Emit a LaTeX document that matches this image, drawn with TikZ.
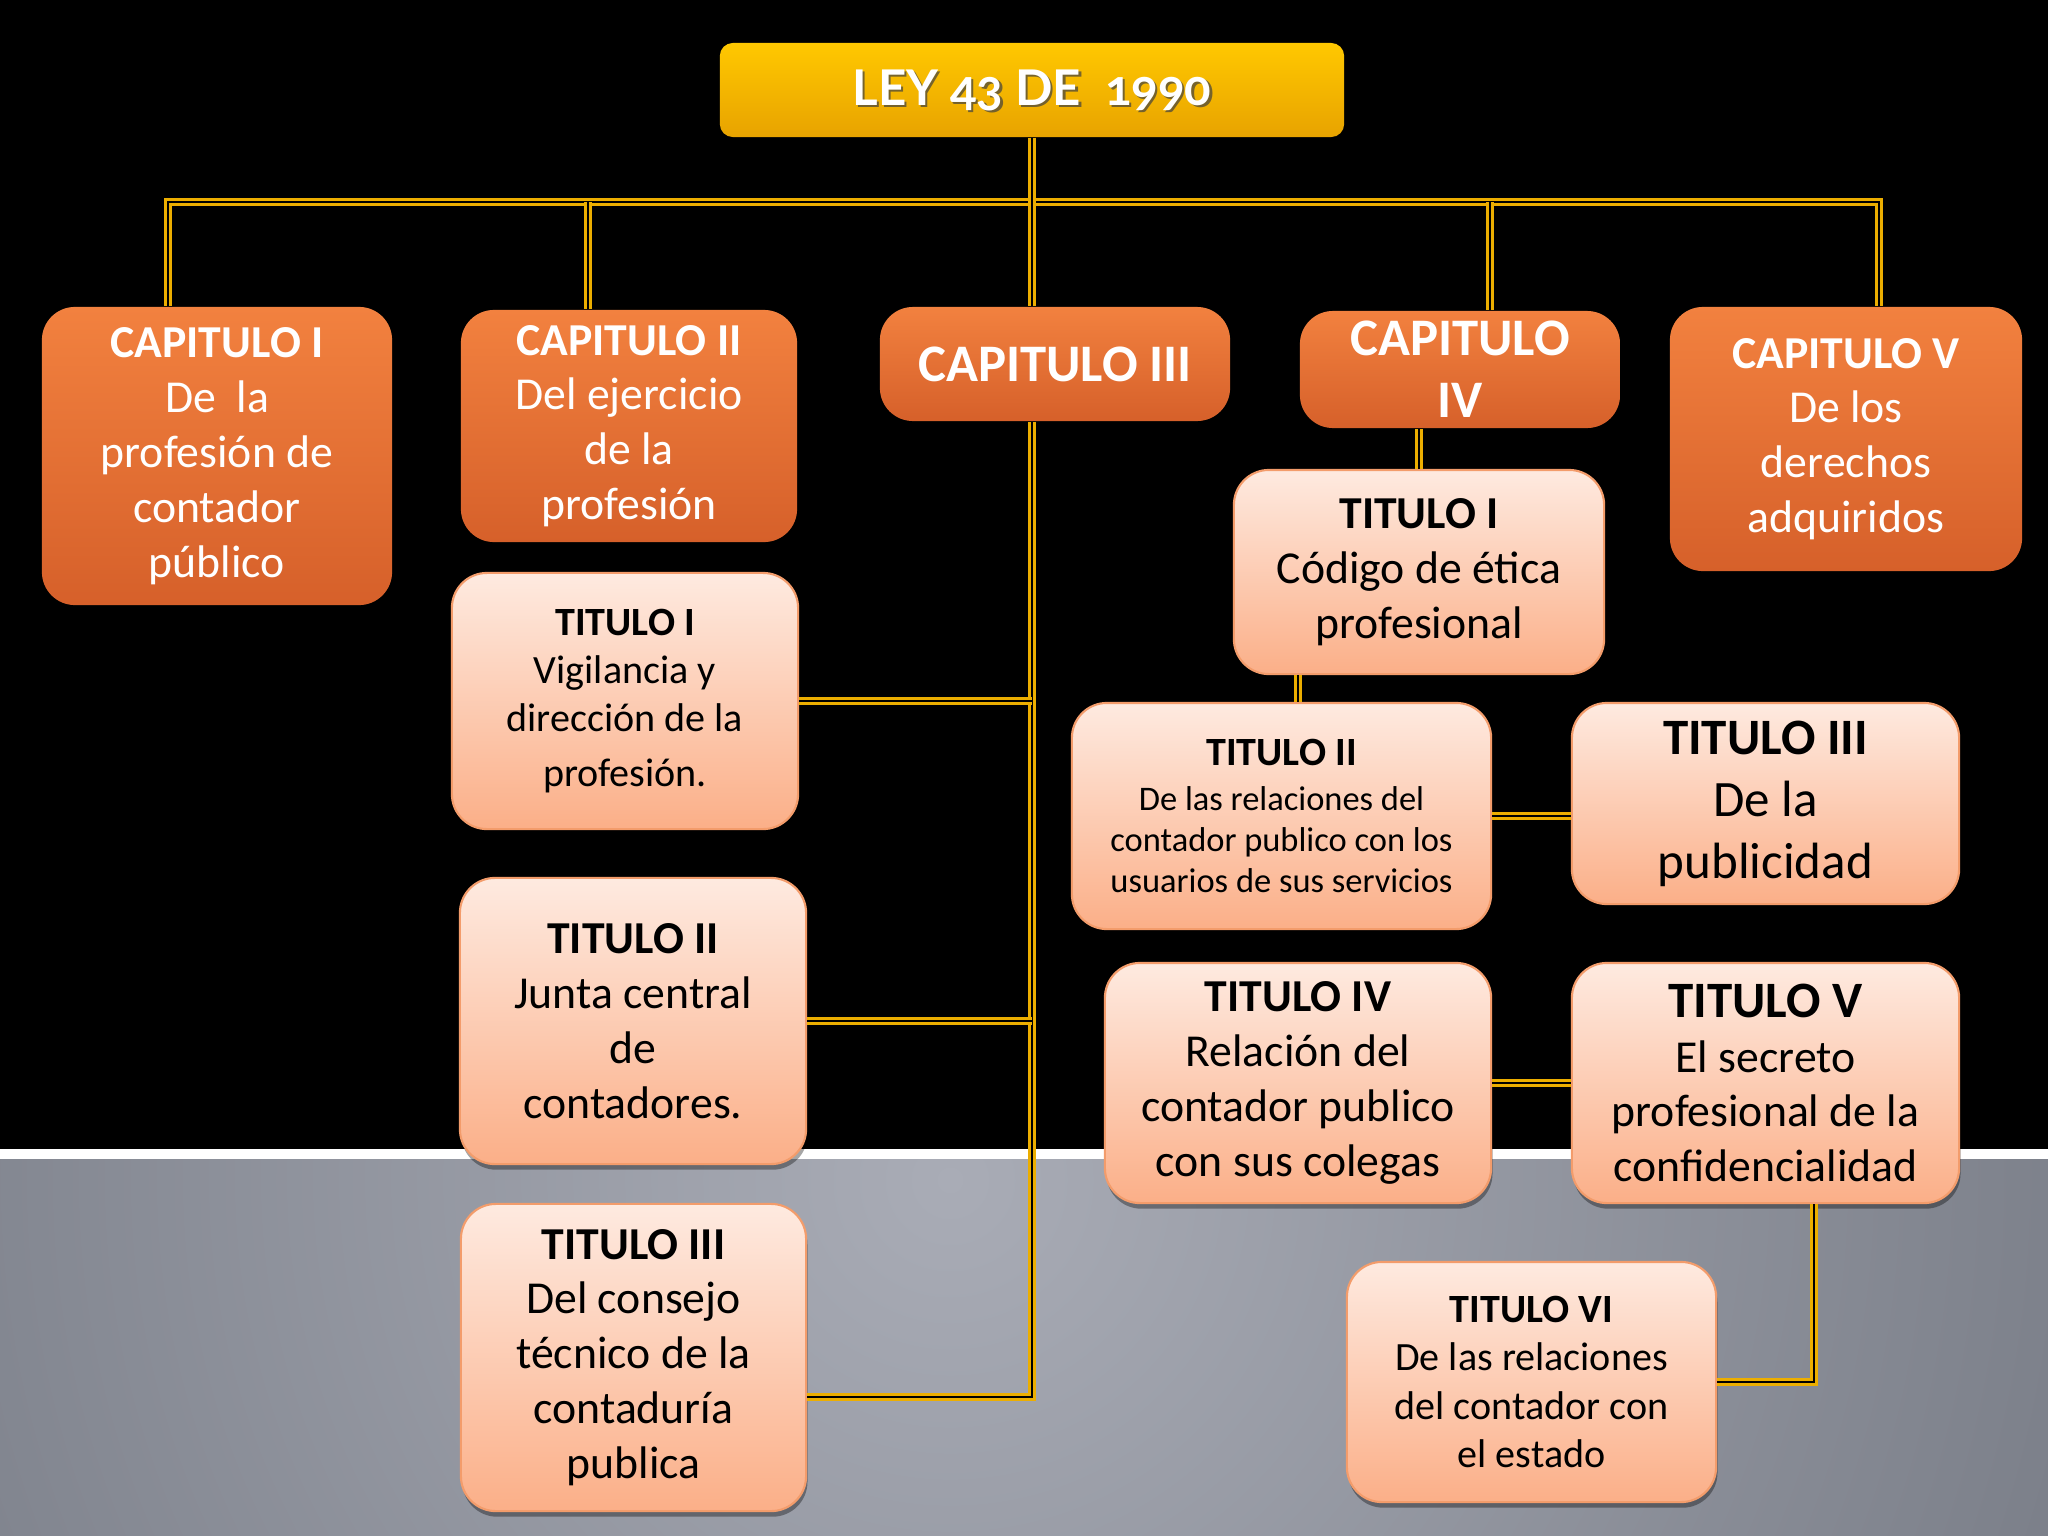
\documentclass[tikz,border=0pt]{standalone}
\usepackage{fontspec}
\setmainfont{Carlito}
\newfontfamily\titlefont[Numbers=OldStyle]{Lato}
\usetikzlibrary{shadows}
\definecolor{capTop}{HTML}{F2813F}
\definecolor{capBot}{HTML}{D6602A}
\definecolor{titTop}{HTML}{FEEAE0}
\definecolor{titBot}{HTML}{FBAF88}
\definecolor{titBorder}{HTML}{F39C6B}
\definecolor{goldTop}{HTML}{FFC800}
\definecolor{goldBot}{HTML}{E8A300}
\definecolor{linkcol}{HTML}{ECAE00}
\definecolor{bgLight}{HTML}{A9ACB6}
\definecolor{bgMid}{HTML}{7C808A}
\definecolor{bgDark}{HTML}{575A63}
\pgfdeclareradialshading{graybg}{\pgfpoint{0bp}{0bp}}{color(0bp)=(bgLight); color(22bp)=(bgMid); color(50bp)=(bgDark)}
\tikzset{
  capbox/.style={rounded corners=0.33cm, top color=capTop, bottom color=capBot, text=white, align=center, inner sep=0pt},
  titbox/.style={rounded corners=0.35cm, top color=titTop, bottom color=titBot, draw=titBorder, line width=0.6pt, text=black, align=center, inner sep=0pt,
     drop shadow={shadow xshift=0.4pt, shadow yshift=-1.6pt, opacity=0.35, fill=black}},
  link/.style={draw=linkcol, line width=0.9pt, double=black, double distance=0.7pt},
  fA/.style={font=\fontsize{13}{15.6}\selectfont},
  fB/.style={font=\fontsize{15}{17.6}\selectfont},
  fC/.style={font=\fontsize{11.4}{13.7}\selectfont},
  fD/.style={font=\fontsize{14.5}{17.6}\selectfont},
}
\begin{document}
\begin{tikzpicture}[x=0.01cm, y=-0.01cm]
\useasboundingbox (0,0) rectangle (2048,1536);
% background
\fill[black] (0,0) rectangle (2048,1149);
\fill[white] (0,1149) rectangle (2048,1159);
\begin{scope}
  \clip (0,1159) rectangle (2048,1536);
  \shade[shading=graybg] (950,1180) circle[radius=13cm];
\end{scope}

% title
\node[rounded corners=0.13cm, top color=goldTop, bottom color=goldBot, minimum width=6.24cm, minimum height=0.94cm, inner sep=0pt] (t) at (1032,90) {};
\node[text=black!75, opacity=0.7, font=\titlefont\bfseries\fontsize{14}{16}\selectfont] (tshadow) at ([xshift=0.6pt,yshift=-0.6pt]t.center) {LEY 43 DE~~1990};
\node[text=white, font=\titlefont\bfseries\fontsize{14}{16}\selectfont] (ttext) at (t.center) {LEY 43 DE~~1990};

% chapters
\node[capbox, fA, minimum width=3.50cm, minimum height=2.98cm] (c1) at (217,456) {\textbf{CAPITULO I}\\ De~~la\\ profesión de\\ contador\\ público};
\node[capbox, fA, minimum width=3.36cm, minimum height=2.32cm] (c2) at (629,426) {\textbf{CAPITULO II}\\ Del ejercicio\\ de la\\ profesión};
\node[capbox, fB, minimum width=3.50cm, minimum height=1.14cm] (c3) at (1055,364) {\textbf{CAPITULO III}};
\node[capbox, fB, minimum width=3.20cm, minimum height=1.17cm] (c4) at (1460,369.5) {\textbf{CAPITULO}\\ \textbf{IV}};
\node[capbox, fA, minimum width=3.52cm, minimum height=2.64cm] (c5) at (1846,439) {\textbf{CAPITULO V}\\ De los\\ derechos\\ adquiridos};

% left titles
\node[titbox, fC, minimum width=3.46cm, minimum height=2.56cm] (tl1) at (625,701) {\textbf{TITULO I}\\ Vigilancia y\\ dirección de la\\[2pt] profesión.};
\node[titbox, fA, minimum width=3.46cm, minimum height=2.86cm] (tl2) at (633,1021) {\textbf{TITULO II}\\ Junta central\\ de\\ contadores.};
\node[titbox, fA, minimum width=3.45cm, minimum height=3.07cm] (tl3) at (633.5,1357.5) {\textbf{TITULO III}\\ Del consejo\\ técnico de la\\ contaduría\\ publica};

% right titles
\node[titbox, fA, minimum width=3.70cm, minimum height=2.04cm] (tr1) at (1419,572) {\textbf{TITULO I}\\ Código de ética\\ profesional};
\node[titbox, font=\fontsize{9.8}{11.7}\selectfont, minimum width=4.19cm, minimum height=2.26cm] (tr2) at (1281.5,816) {{\fontsize{11.4}{13}\selectfont\textbf{TITULO II}}\\[1pt] De las relaciones del\\ contador publico con los\\ usuarios de sus servicios};
\node[titbox, fD, minimum width=3.87cm, minimum height=2.01cm] (tr3) at (1765.5,803.5) {\textbf{TITULO III}\\ De la\\ publicidad};
\node[titbox, fA, minimum width=3.86cm, minimum height=2.40cm] (tr4) at (1298,1083) {\textbf{TITULO IV}\\ Relación del\\ contador publico\\ con sus colegas};
\node[titbox, fA, minimum width=3.87cm, minimum height=2.40cm] (tr5) at (1765.5,1083) {{\fontsize{14.5}{16}\selectfont\textbf{TITULO V}}\\ El secreto\\ profesional de la\\ confidencialidad};
\node[titbox, fC, minimum width=3.69cm, minimum height=2.40cm] (tr6) at (1531.5,1382) {\textbf{TITULO VI}\\ De las relaciones\\ del contador con\\ el estado};

% bus coordinates
\coordinate (b1) at (168,202);
\coordinate (b2) at (588,202);
\coordinate (b4) at (1490,202);
\coordinate (b5) at (1879,202);
\coordinate (v3) at (1032,1397);

% connectors
\draw[link] (b1 |- c1.north) -- (b1) -- (b5) -- (b5 |- c5.north);
\draw[link] (b2) -- (b2 |- c2.north);
\draw[link] (b4) -- (b4 |- c4.north);
\draw[link] (t.south) -- (t.south |- c3.north);
\draw[link] (c3.south -| v3) -- (v3) -- (tl3.east |- v3);
\draw[link] (tl1.east) -- (tl1.east -| v3);
\draw[link] (tl2.east) -- (tl2.east -| v3);
\draw[link] (tr1.north) -- (tr1.north |- c4.south);
\draw[link] ([xshift=-1.21cm]tr1.south) -- ([xshift=-1.21cm]tr1.south |- tr2.north);
\draw[link] (tr2.east) -- (tr2.east -| tr3.west);
\draw[link] (tr4.east) -- (tr4.east -| tr5.west);
\draw[link] ([xshift=0.485cm]tr5.south) |- (tr6.east);
\end{tikzpicture}
\end{document}
